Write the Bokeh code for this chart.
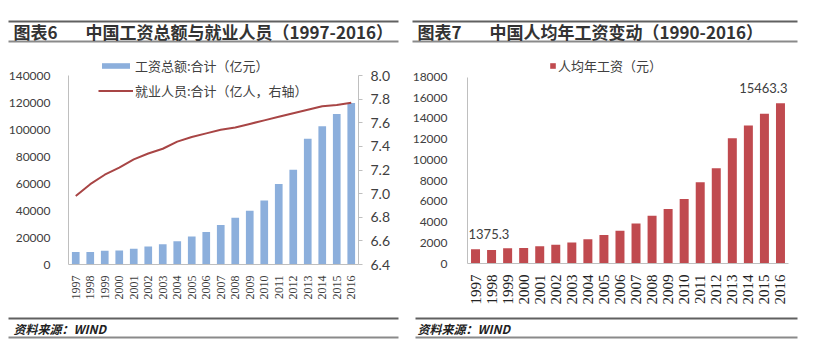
import numpy as np
from bokeh.plotting import figure
from bokeh.layouts import row, column
from bokeh.models import (Range1d, LinearAxis, Legend, LegendItem,
                          FactorRange, FixedTicker, NumeralTickFormatter)
from bokeh.core.properties import value
from bokeh.embed import file_html
from bokeh.resources import INLINE

# ---------------- data ----------------
years = [str(y) for y in range(1997, 2017)]
wage_total = [9200, 9200, 10200, 10400, 11700, 13400, 15000, 17200, 20700, 24100,
              29200, 34700, 39900, 47500, 59600, 70100, 93100, 102400, 111400, 119700]
employed = [6.98, 7.08, 7.16, 7.22, 7.29, 7.34, 7.38, 7.44, 7.48, 7.51,
            7.54, 7.56, 7.59, 7.62, 7.65, 7.68, 7.71, 7.74, 7.75, 7.77]
avg_wage = [1375.3, 1300, 1460, 1500, 1660, 1800, 2030, 2350, 2750, 3160,
            3870, 4610, 5260, 6230, 7840, 9200, 12100, 13330, 14460, 15463.3]
left_ticks = [0, 20000, 40000, 60000, 80000, 100000, 120000, 140000]
right_ticks = [6.4, 6.6, 6.8, 7.0, 7.2, 7.4, 7.6, 7.8, 8.0]
avg_ticks = [0, 2000, 4000, 6000, 8000, 10000, 12000, 14000, 16000, 18000]

title6 = ["图表6", "中国工资总额与就业人员（1997-2016）"]
title7 = ["图表7", "中国人均年工资变动（1990-2016）"]
source = "资料来源：WIND"
leg_bar = "工资总额:合计（亿元）"
leg_line = "就业人员:合计（亿人，右轴）"
leg_avg = "人均年工资（元）"

CJK = "Noto Sans CJK SC"
NUM = "Lato"
TXT = "#404040"
AX = "#bfbfbf"
HEAD_H = 46
FOOT_H = 44
CH = 353 - HEAD_H - FOOT_H
FRAME_TOP = 54          # page y of top of plotting frame (room for legends)


def blank(width, height):
    p = figure(width=width, height=height, x_range=Range1d(0, width),
               y_range=Range1d(height, 0), output_backend="svg", toolbar_location=None,
               x_axis_location=None, y_axis_location=None, frame_align=False,
               min_border_left=0, min_border_right=0, min_border_top=0, min_border_bottom=0)
    p.xgrid.visible = False
    p.ygrid.visible = False
    p.outline_line_color = None
    return p


def header(width, title, x0, x1):
    h = blank(width, HEAD_H)
    h.segment(x0=[x0], y0=[21], x1=[x1], y1=[21], line_color="#606060", line_width=2)
    h.segment(x0=[x0], y0=[41], x1=[x1], y1=[41], line_color="#8a8a8a", line_width=2)
    h.text(x=[x0 + 5], y=[31], text=[title[0]], text_font=value(CJK), text_font_size="17px",
           text_font_style="bold", text_color="#333333", text_baseline="middle")
    h.text(x=[x0 + 77], y=[31], text=[title[1]], text_font=value(CJK), text_font_size="17px",
           text_font_style="bold", text_color="#333333", text_baseline="middle")
    return h


def footer(width, x0, x1, tx):
    f = blank(width, FOOT_H)
    f.segment(x0=[x0], y0=[9], x1=[x1], y1=[9], line_color="#606060", line_width=2)
    f.segment(x0=[x0], y0=[28], x1=[x1], y1=[28], line_color="#8a8a8a", line_width=2)
    f.text(x=[tx], y=[19], text=[source], text_font=value(CJK), text_font_size="12px",
           text_font_style="bold italic", text_color="#222222", text_baseline="middle")
    return f


def extend(lo, hi, px_lo, px_hi):
    # range end so that `hi` sits at page y px_hi while the frame top is FRAME_TOP
    return lo + (hi - lo) * (px_lo - FRAME_TOP) / (px_lo - px_hi)


def style_common(p):
    p.xgrid.visible = False
    p.ygrid.visible = False
    p.outline_line_color = None


def legend(items, loc, gw, gh, spacing):
    return Legend(items=items, location=loc, glyph_width=gw, glyph_height=gh,
                  label_height=19, spacing=spacing, padding=0, margin=0,
                  border_line_color=None, background_fill_alpha=0, label_standoff=2,
                  label_text_font=CJK, label_text_font_size="13px", label_text_color=TXT)


# ---------------- left chart ----------------
L_BOT, L_TOP = 264, 75
p1 = figure(width=407, height=CH, x_range=FactorRange(factors=years),
            y_range=Range1d(0, extend(0, left_ticks[-1], L_BOT, L_TOP)),
            output_backend="svg", toolbar_location=None, frame_align=False,
            min_border_left=68, min_border_right=49, min_border_top=FRAME_TOP - HEAD_H,
            min_border_bottom=CH - (L_BOT - HEAD_H))
style_common(p1)
p1.extra_y_ranges = {"emp": Range1d(right_ticks[0],
                                    extend(right_ticks[0], right_ticks[-1], L_BOT, L_TOP))}

bars1 = p1.vbar(x=years, top=wage_total, width=0.53, fill_color="#8cafdc", line_color=None)
line1 = p1.line(x=years, y=employed, y_range_name="emp", line_color="#a84545", line_width=2)

ax = p1.yaxis[0]
ax.ticker = FixedTicker(ticks=left_ticks)
ax.bounds = (left_ticks[0], left_ticks[-1])
ax.formatter = NumeralTickFormatter(format="0")
ax.axis_line_color = AX
ax.major_tick_line_color = None
ax.minor_tick_line_color = None
ax.major_label_standoff = 12
ax.major_label_text_font = NUM
ax.major_label_text_font_size = "12px"
ax.major_label_text_color = TXT

rax = LinearAxis(y_range_name="emp", ticker=FixedTicker(ticks=right_ticks),
                 bounds=(right_ticks[0], right_ticks[-1]),
                 formatter=NumeralTickFormatter(format="0.0"))
rax.axis_line_color = AX
rax.major_tick_line_color = AX
rax.major_tick_out = 4
rax.major_tick_in = 0
rax.minor_tick_line_color = None
rax.major_label_standoff = 8
rax.major_label_text_font = NUM
rax.major_label_text_font_size = "14px"
rax.major_label_text_color = TXT
p1.add_layout(rax, "right")

xa = p1.xaxis[0]
xa.major_label_orientation = np.pi / 2
xa.major_label_text_font = "Liberation Serif"
xa.major_label_text_font_size = "12px"
xa.major_label_text_color = TXT
xa.major_tick_line_color = None
xa.axis_line_color = AX
xa.major_label_standoff = 5

p1.add_layout(legend([LegendItem(label=leg_bar, renderers=[bars1]),
                      LegendItem(label=leg_line, renderers=[line1])],
                     (30, L_BOT - 100), 35, 7, 6))

# ---------------- right chart ----------------
R_BOT, R_TOP = 263, 76.5
p2 = figure(width=408, height=CH, x_range=FactorRange(factors=years),
            y_range=Range1d(0, extend(0, avg_ticks[-1], R_BOT, R_TOP)),
            output_backend="svg", toolbar_location=None, frame_align=False,
            min_border_left=60, min_border_right=27, min_border_top=FRAME_TOP - HEAD_H,
            min_border_bottom=CH - (R_BOT - HEAD_H))
style_common(p2)
bars2 = p2.vbar(x=years, top=avg_wage, width=0.56, fill_color="#c04a4f", line_color=None)

ay = p2.yaxis[0]
ay.ticker = FixedTicker(ticks=avg_ticks)
ay.bounds = (avg_ticks[0], avg_ticks[-1])
ay.formatter = NumeralTickFormatter(format="0")
ay.axis_line_color = AX
ay.major_tick_line_color = None
ay.minor_tick_line_color = None
ay.major_label_standoff = 14
ay.major_label_text_font = NUM
ay.major_label_text_font_size = "12px"
ay.major_label_text_color = TXT

xb = p2.xaxis[0]
xb.major_label_orientation = np.pi / 2
xb.major_label_text_font = "Liberation Serif"
xb.major_label_text_font_size = "15px"
xb.major_label_text_color = "#222222"
xb.major_tick_line_color = None
xb.axis_line_color = AX
xb.major_label_standoff = 5

p2.text(x=[years[0]], y=[avg_wage[0]], text=[f"{avg_wage[0]:.1f}"], text_align="left",
        text_baseline="middle", x_offset=-7, y_offset=-15, text_font=value(NUM),
        text_font_size="13px", text_color=TXT)
p2.text(x=[years[-1]], y=[avg_wage[-1]], text=[f"{avg_wage[-1]:.1f}"], text_align="right",
        text_baseline="middle", x_offset=7, y_offset=-15, text_font=value(NUM),
        text_font_size="13px", text_color=TXT)

p2.add_layout(legend([LegendItem(label=leg_avg, renderers=[bars2])],
                     (82, R_BOT - 74.5), 7, 7, 0))

left = column(header(407, title6, 8, 398), p1, footer(407, 8, 398, 13))
right = column(header(408, title7, 5, 390), p2, footer(408, 8, 390, 10))
layout = row(left, right)
open("out.html", "w").write(file_html(layout, INLINE))
